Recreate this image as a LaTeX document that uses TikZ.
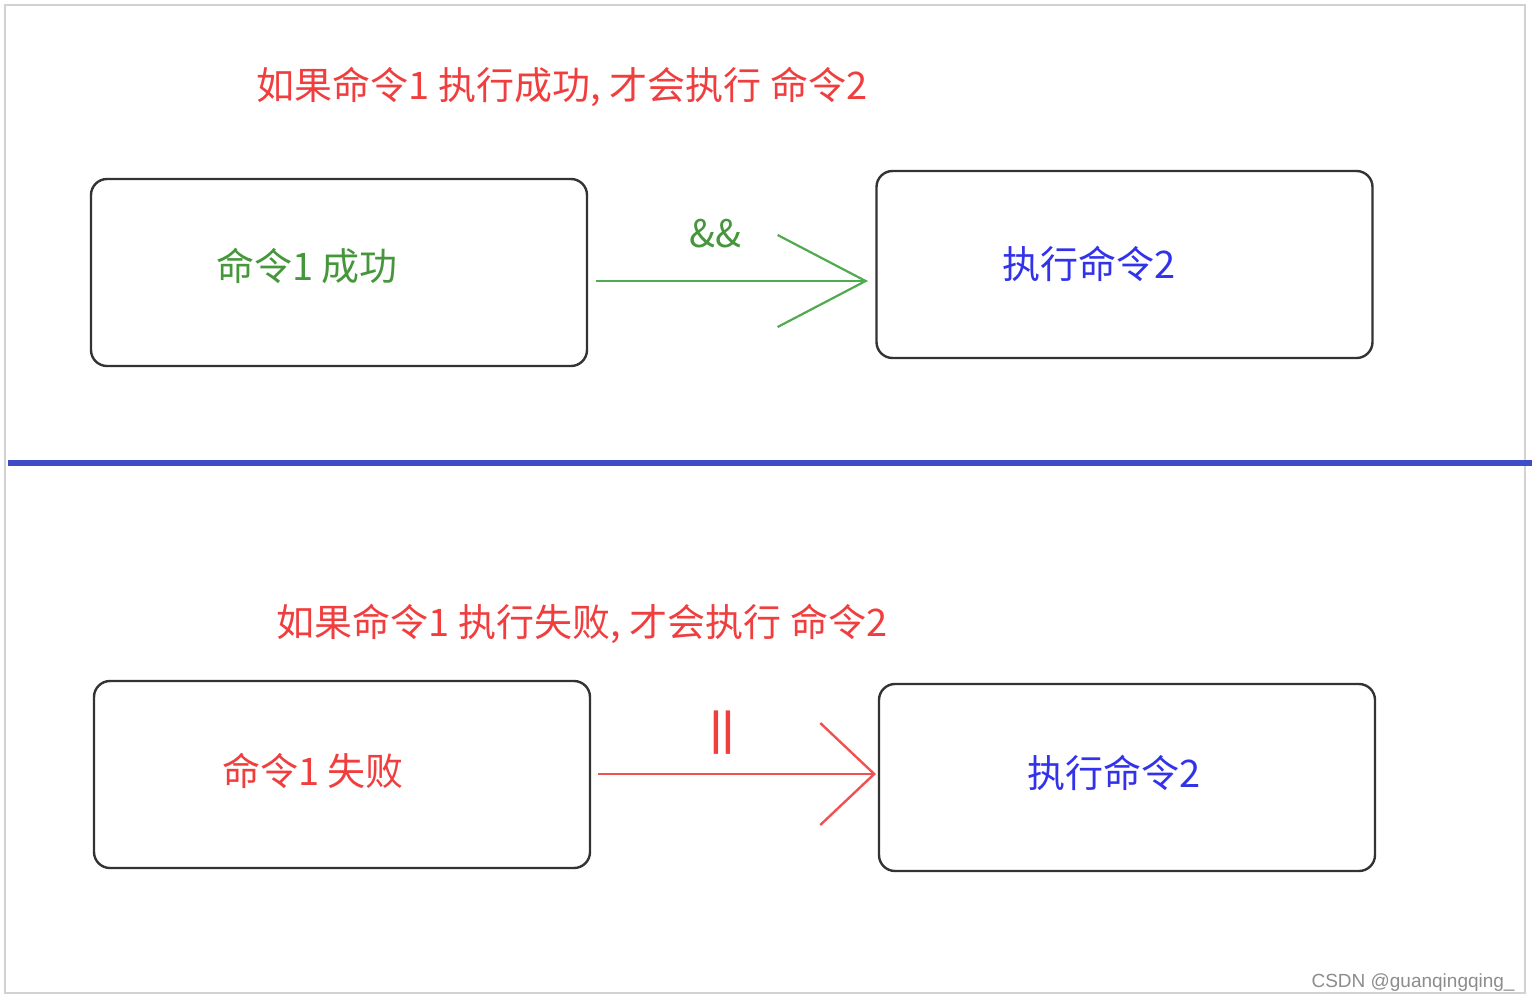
\documentclass[tikz,border=0pt]{standalone}
\usepackage{fontspec}
\newfontfamily\cjk{Noto Sans CJK SC}
\newfontfamily\wm{Liberation Sans}
\usetikzlibrary{arrows.meta}
\definecolor{tred}{RGB}{240,62,62}
\definecolor{tgreen}{RGB}{70,150,60}
\definecolor{lgreen}{RGB}{80,170,80}
\definecolor{tblue}{RGB}{50,50,235}
\definecolor{dblue}{RGB}{62,76,200}
\definecolor{frame}{RGB}{210,210,210}
\tikzset{
  cmdbox/.style={draw=black!80, line width=1.2pt, rounded corners=8pt, minimum width=248pt, minimum height=93.5pt, inner sep=0pt},
  lbl/.style={font=\cjk\fontsize{19}{21}\selectfont, inner sep=0pt},
  greenarrow/.style={draw=lgreen, line width=1.1pt, -{Straight Barb[length=44pt, width=46pt, line width=1.1pt]}},
  redarrow/.style={draw=tred!90, line width=1.2pt, -{Straight Barb[length=27pt, width=51pt, line width=1.2pt]}}
}
\begin{document}
\begin{tikzpicture}[x=0.5pt, y=-0.5pt]
\useasboundingbox (0,0) rectangle (1532,1002);
\draw[frame, line width=1pt] (5,5) rectangle (1525,993);
\node[lbl, text=tred] (t1) at (562,87) {如果命令1 执行成功, 才会执行 命令2};
\node[cmdbox] (b1) at (339,272.5) {};
\node[lbl, text=tgreen] (l1) at (307,266) {命令1 成功};
\node[cmdbox] (b2) at (1124.5,264.5) {};
\node[lbl, text=tblue] (l2) at (1089,264) {执行命令2};
\coordinate (a1s) at (596,281);
\coordinate (a1e) at (868,281);
\draw[greenarrow] (a1s) -- (a1e);
\node[lbl, text=tgreen] (and) at (715,234) {\&\&};
\coordinate (ds) at (8,463);
\coordinate (de) at (1532,463);
\draw[dblue, line width=2.6pt] (ds) -- (de);
\node[lbl, text=tred] (t2) at (582,624) {如果命令1 执行失败, 才会执行 命令2};
\node[cmdbox] (b3) at (342,774.5) {};
\node[lbl, text=tred] (l3) at (313,771) {命令1 失败};
\node[cmdbox] (b4) at (1127,777.5) {};
\node[lbl, text=tblue] (l4) at (1114,773) {执行命令2};
\coordinate (a2s) at (598,774);
\coordinate (a2e) at (876,774);
\draw[redarrow] (a2s) -- (a2e);
\node[lbl, text=tred, font=\cjk\bfseries\fontsize{19}{21}\selectfont] (or) at (722,733) {||};
\node[font=\wm\fontsize{9.5}{11}\selectfont, text=black!45, anchor=east, inner sep=0pt] (wm) at (1515,983) {CSDN @guanqingqing\_};
\end{tikzpicture}
\end{document}
